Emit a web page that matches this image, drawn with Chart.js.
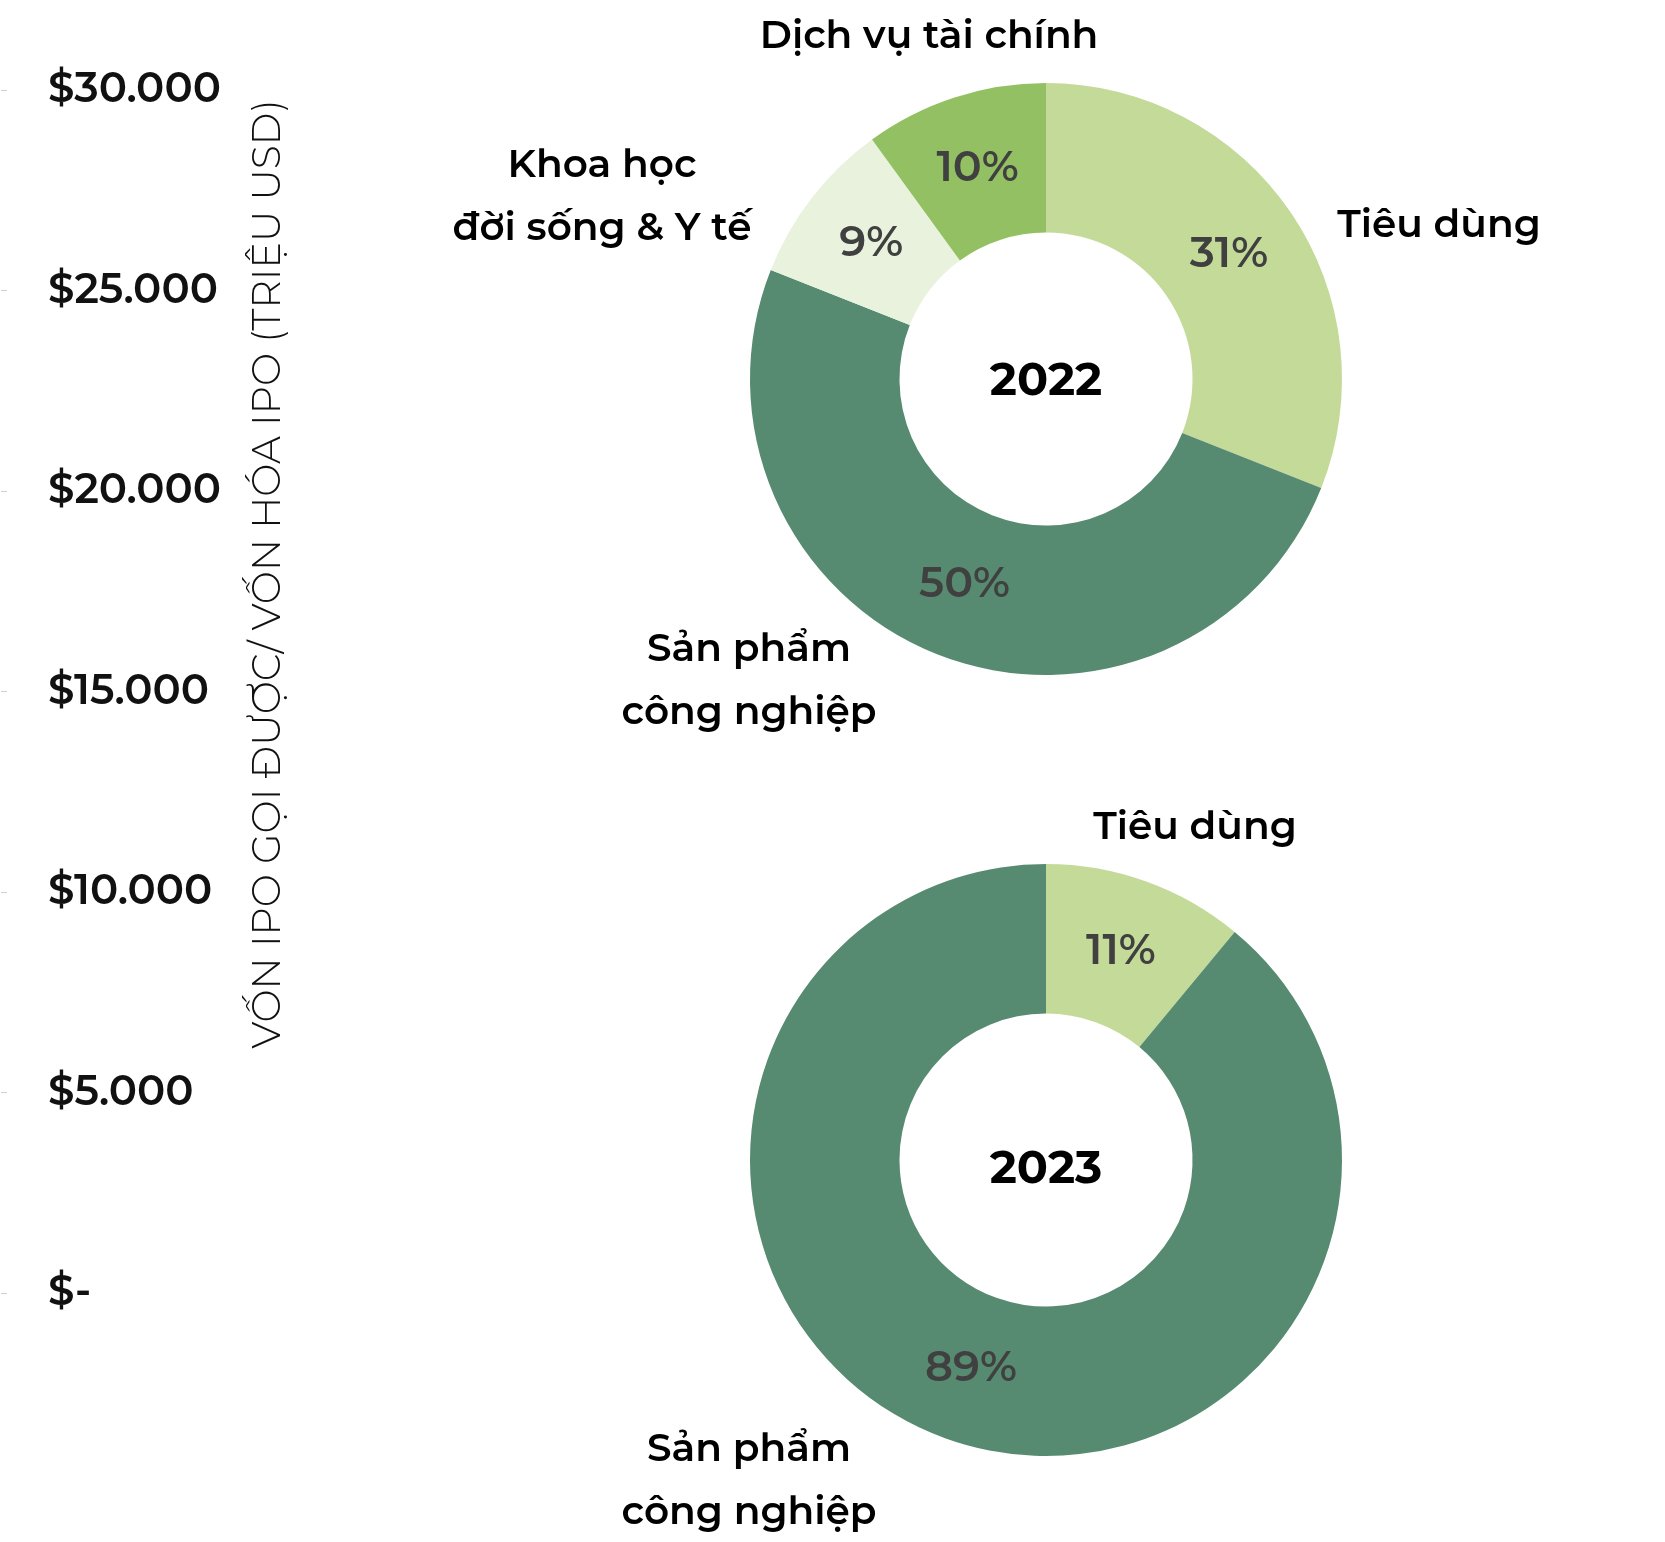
<!DOCTYPE html>
<html lang="vi">
<head>
<meta charset="UTF-8">
<title>Vốn IPO theo ngành 2022 - 2023</title>
<script src="https://cdn.jsdelivr.net/npm/chart.js"></script>
<style>
  body { margin: 0; background: #fff; }
  .wrap { position: relative; width: 1665px; height: 1542px; overflow: hidden; }
  .wrap canvas { position: absolute; }
</style>
</head>
<body>
<div class="wrap">
  <canvas id="axisChart" width="340" height="1542" style="left:0;top:0"></canvas>
  <canvas id="donut2022" width="1265" height="770" style="left:400px;top:0"></canvas>
  <canvas id="donut2023" width="1265" height="772" style="left:400px;top:770px"></canvas>
</div>
<script>
// du lieu
const yTickValues = [0, 5000, 10000, 15000, 20000, 25000, 30000];
const yTickLabels = ['$-', '$5.000', '$10.000', '$15.000', '$20.000', '$25.000', '$30.000'];
const yTitle = 'VỐN IPO GỌI ĐƯỢC/ VỐN HÓA IPO (TRIỆU USD)';

const sectors2022 = [['Tiêu dùng'], ['Sản phẩm', 'công nghiệp'], ['Khoa học', 'đời sống & Y tế'], ['Dịch vụ tài chính']];
const share2022 = [31, 50, 9, 10];
const colors2022 = ['#c4da98', '#578b71', '#e9f2dd', '#93c063'];

const sectors2023 = [['Tiêu dùng'], ['Sản phẩm', 'công nghiệp']];
const share2023 = [11, 89];
const colors2023 = ['#c4da98', '#578b71'];

const FONT = '"Montserrat", "Noto Sans", sans-serif';

// truc tung ben trai (chi co truc, khong co cot)
const axisTitle = {
  id: 'axisTitle',
  afterDraw(chart, args, opts) {
    const ctx = chart.ctx;
    ctx.save();
    ctx.translate(opts.x, opts.y);
    ctx.rotate(-Math.PI / 2);
    ctx.font = '300 39.5px ' + FONT;
    ctx.fillStyle = '#111';
    ctx.textAlign = 'center';
    ctx.textBaseline = 'middle';
    ctx.fillText(opts.text, 0, 0);
    ctx.restore();
  }
};

new Chart(document.getElementById('axisChart'), {
  type: 'bar',
  data: { labels: [''], datasets: [] },
  options: {
    responsive: false,
    animation: false,
    layout: { padding: { top: 90, bottom: 249, left: 0, right: 0 } },
    plugins: {
      legend: { display: false },
      tooltip: { enabled: false },
      axisTitle: { text: yTitle, x: 268, y: 574 }
    },
    scales: {
      x: { display: false },
      y: {
        position: 'right',
        min: 0,
        max: 30000,
        afterBuildTicks: s => { s.ticks = yTickValues.map(v => ({ value: v })); },
        afterFit: s => { s.width = 339; },
        border: { display: false },
        grid: { drawOnChartArea: false, drawTicks: true, tickLength: 6, color: '#d0d0d0', tickColor: '#d0d0d0' },
        ticks: {
          padding: 41,
          color: '#111',
          font: { family: FONT, size: 42, weight: '600' },
          callback: v => yTickLabels[yTickValues.indexOf(v)]
        }
      }
    }
  },
  plugins: [axisTitle]
});

// nhan trong va ngoai vong tron
const donutText = {
  id: 'donutText',
  afterDatasetsDraw(chart, args, opts) {
    const ctx = chart.ctx;
    const meta = chart.getDatasetMeta(0);
    const cx = meta.data[0].x, cy = meta.data[0].y;
    const values = chart.data.datasets[0].data;
    ctx.save();
    ctx.textAlign = 'center';
    ctx.textBaseline = 'middle';

    ctx.font = '600 43px ' + FONT;
    ctx.fillStyle = '#404040';
    meta.data.forEach((arc, i) => {
      const p = arc.tooltipPosition();
      ctx.fillText(values[i] + '%', p.x, p.y);
    });

    ctx.font = '700 46px ' + FONT;
    ctx.fillStyle = '#000';
    ctx.fillText(opts.year, cx, cy + opts.yearShift);

    ctx.font = '600 39px ' + FONT;
    chart.data.labels.forEach((lines, i) => {
      const off = opts.offsets[i];
      lines.forEach((line, k) => {
        ctx.fillText(line, cx + off[0], cy + off[1] + (k - (lines.length - 1) / 2) * 63);
      });
    });
    ctx.restore();
  }
};

function makeDonut(id, labels, data, colors, year, yearShift, offsets, pad) {
  return new Chart(document.getElementById(id), {
    type: 'doughnut',
    data: {
      labels: labels,
      datasets: [{ data: data, backgroundColor: colors, borderWidth: 0 }]
    },
    options: {
      responsive: false,
      animation: false,
      cutout: '49.5%',
      layout: { padding: pad },
      plugins: {
        legend: { display: false },
        tooltip: { enabled: false },
        donutText: { year: year, yearShift: yearShift, offsets: offsets }
      }
    },
    plugins: [donutText]
  });
}

makeDonut('donut2022', sectors2022, share2022, colors2022, '2022', 2,
  [[393, -153], [-297, 302], [-444, -182], [-117, -342]],
  { left: 350, right: 323, top: 83, bottom: 95 });

makeDonut('donut2023', sectors2023, share2023, colors2023, '2023', 9,
  [[149, -332], [-297, 321]],
  { left: 350, right: 323, top: 94, bottom: 86 });
</script>
</body>
</html>
